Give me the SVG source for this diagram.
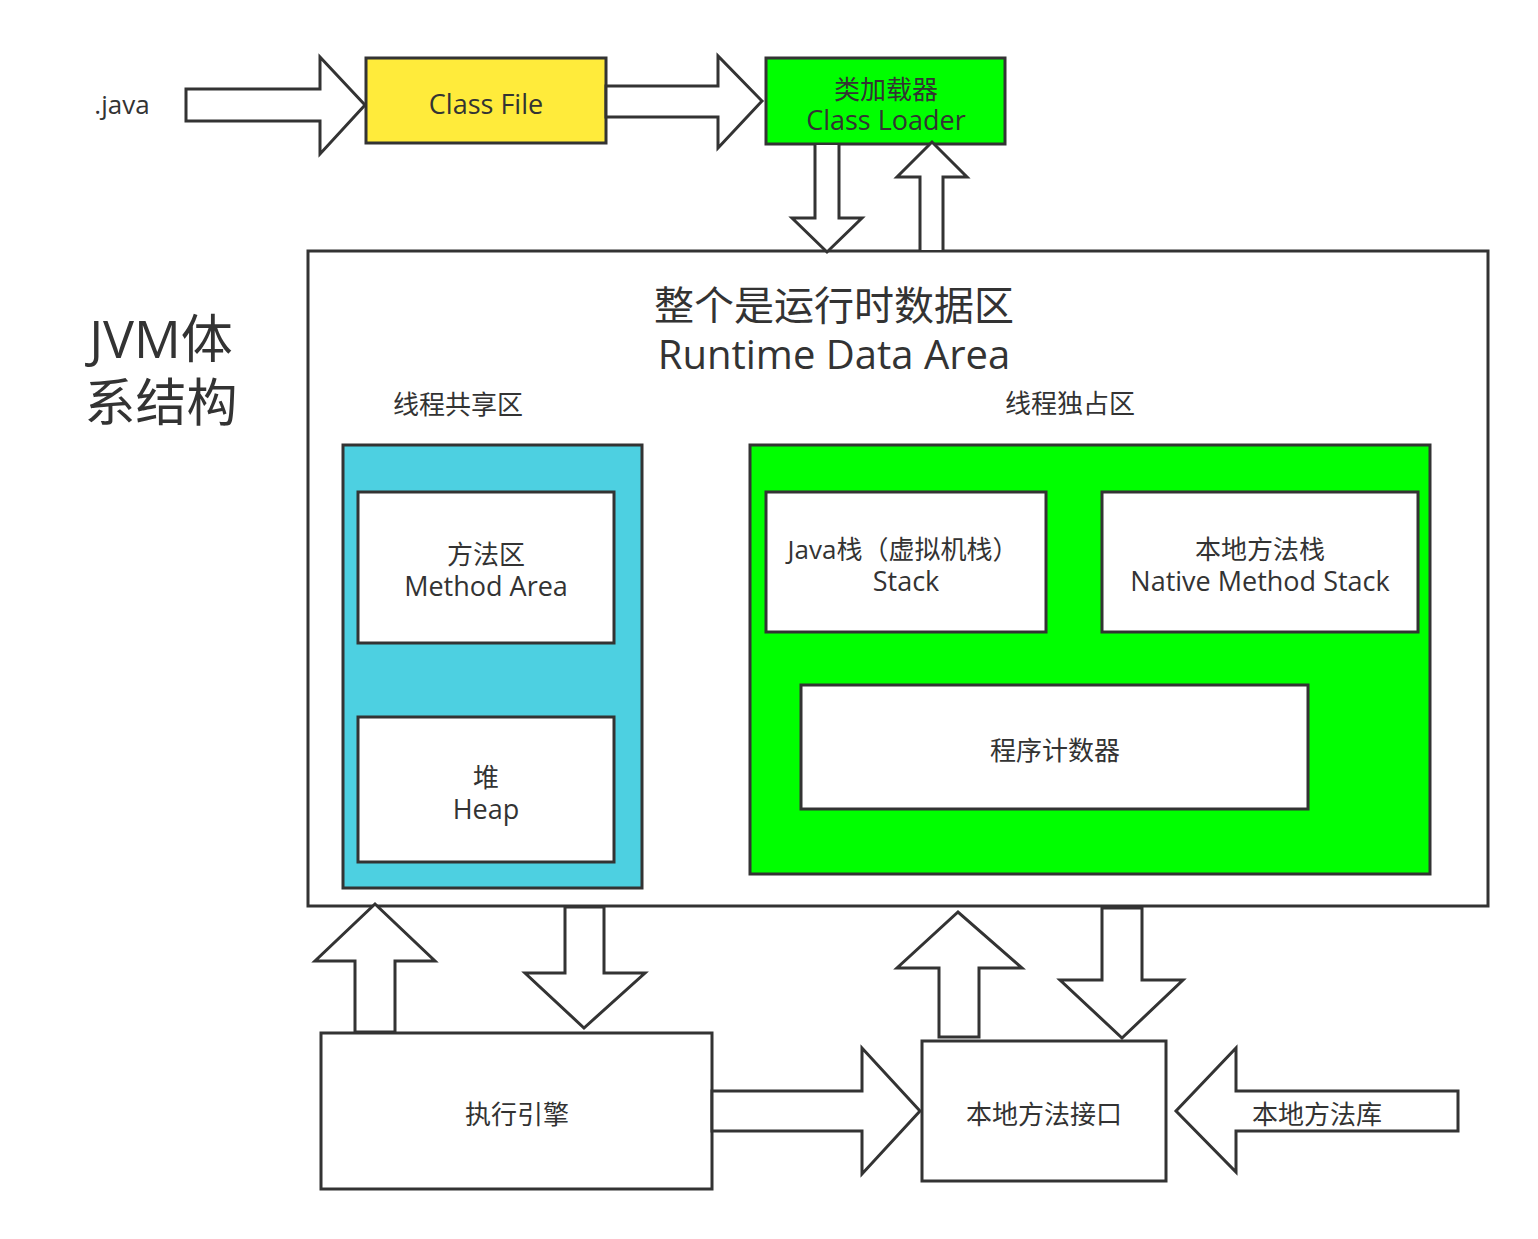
<svg xmlns="http://www.w3.org/2000/svg" width="1538" height="1239" viewBox="0 0 1538 1239">
<style>
.t{font-family:"Open Sans","Noto Sans CJK SC",sans-serif;fill:#333;text-anchor:middle;font-size:26px}
.l{font-size:27px}
.box{stroke:#333;stroke-width:3}
.arr{fill:#fff;stroke:#333;stroke-width:3;stroke-linejoin:miter}
</style>
<rect width="1538" height="1239" fill="#fff"/>
<g id="java-label"><text class="t" x="122" y="114">.java</text></g>
<g id="title"><text class="t" x="161" y="358" style="font-size:52px">JVM体</text><text class="t" x="161" y="421" style="font-size:51px">系结构</text></g>
<g id="class-file"><rect class="box" x="366" y="58" width="240" height="85" fill="#ffeb3b"/><text class="t l" x="486" y="114">Class File</text></g>
<g id="class-loader"><rect class="box" x="766" y="58" width="239" height="86" fill="#00ff00"/><text class="t" x="886" y="99">类加载器</text><text class="t l" x="886" y="130">Class Loader</text></g>
<g id="runtime-data-area"><rect class="box" x="308" y="251" width="1180" height="655" fill="#fff"/><text class="t" x="834" y="320" style="font-size:40px">整个是运行时数据区</text><text class="t" x="834" y="369" style="font-size:40px">Runtime Data Area</text>
<text class="t" x="458" y="414">线程共享区</text><text class="t" x="1070" y="413">线程独占区</text></g>
<g id="shared-area"><rect class="box" x="343" y="445" width="299" height="443" fill="#4dd0e1"/></g>
<g id="method-area"><rect class="box" x="358" y="492" width="256" height="151" fill="#fff"/><text class="t" x="486" y="564">方法区</text><text class="t l" x="486" y="596">Method Area</text></g>
<g id="heap"><rect class="box" x="358" y="717" width="256" height="145" fill="#fff"/><text class="t" x="486" y="787">堆</text><text class="t l" x="486" y="819">Heap</text></g>
<g id="private-area"><rect class="box" x="750" y="445" width="680" height="429" fill="#00ff00"/></g>
<g id="java-stack"><rect class="box" x="766" y="492" width="280" height="140" fill="#fff"/><text class="t" x="903" y="559">Java栈（虚拟机栈）</text><text class="t l" x="906" y="591">Stack</text></g>
<g id="native-stack"><rect class="box" x="1102" y="492" width="316" height="140" fill="#fff"/><text class="t" x="1260" y="559">本地方法栈</text><text class="t l" x="1260" y="591">Native Method Stack</text></g>
<g id="pc-register"><rect class="box" x="801" y="685" width="507" height="124" fill="#fff"/><text class="t" x="1055" y="760">程序计数器</text></g>
<g id="exec-engine"><rect class="box" x="321" y="1033" width="391" height="156" fill="#fff"/><text class="t" x="517" y="1124">执行引擎</text></g>
<g id="native-interface"><rect class="box" x="922" y="1041" width="244" height="140" fill="#fff"/><text class="t" x="1044" y="1124">本地方法接口</text></g>
<g id="connectors">
<path class="arr" d="M186,89 H320 V57 L365,105 L320,154 V121 H186 Z"/>
<path class="arr" d="M606,86 H718 V56 L762,101 L718,148 V117 H606 Z"/>
<path class="arr" d="M815,145 V218 H792 L827,252 L862,218 H839 V145"/>
<path class="arr" d="M920,250 V177 H897 L932,142 L967,177 H943 V250"/>
<path class="arr" d="M355,1032 V961 H315 L375,904 L435,961 H395 V1032 Z"/>
<path class="arr" d="M565,907 V973 H525 L584,1028 L645,973 H604 V907 Z"/>
<path class="arr" d="M939,1037 V968 H897 L958,912 L1022,968 H979 V1037 Z"/>
<path class="arr" d="M1102,908 V980 H1060 L1122,1038 L1183,980 H1142 V908 Z"/>
<path class="arr" d="M712,1091 H862 V1048 L920,1111 L862,1174 V1131 H712 Z"/>
<path class="arr" d="M1458,1091 H1236 V1048 L1176,1111 L1236,1172 V1131 H1458 Z"/>
</g>
<g id="library-label"><text class="t" x="1317" y="1124">本地方法库</text></g>
</svg>
